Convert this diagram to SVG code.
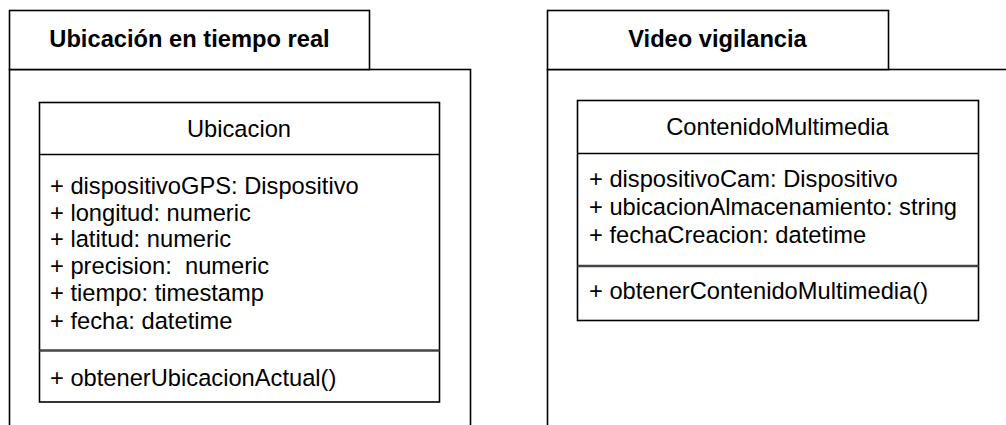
<svg xmlns="http://www.w3.org/2000/svg" width="1006" height="425" viewBox="0 0 1006 425">
  <style>
    .frame { fill: #ffffff; stroke: #000000; stroke-width: 1.6; }
    .box { fill: #ffffff; stroke: #000000; stroke-width: 1.6; }
    .sep { stroke: #000000; stroke-width: 1.6; fill: none; }
    .sep2 { stroke: #444444; stroke-width: 2.4; fill: none; }
    .pkg { font-family: "Liberation Sans", Arial, sans-serif; font-weight: bold; font-size: 23.7px; fill: #000000; text-anchor: middle; }
    .cls { font-family: "Liberation Sans", Arial, sans-serif; font-size: 23.7px; fill: #000000; text-anchor: middle; }
    .mem { font-family: "Liberation Sans", Arial, sans-serif; font-size: 23.7px; fill: #000000; }
  </style>
  <rect width="1006" height="425" fill="#ffffff"/>

  <!-- Package: Ubicación en tiempo real -->
  <g id="pkg-ubicacion">
    <rect class="frame" x="9.5" y="69.5" width="461" height="400"/>
    <rect class="frame" x="9.5" y="10.5" width="360" height="59"/>
    <text class="pkg" x="189.5" y="47">Ubicación en tiempo real</text>
  </g>

  <!-- Package: Video vigilancia -->
  <g id="pkg-video">
    <rect class="frame" x="547.5" y="69.5" width="500" height="400"/>
    <rect class="frame" x="547.5" y="10.5" width="341" height="59"/>
    <text class="pkg" x="717.5" y="47">Video vigilancia</text>
  </g>

  <!-- Class: Ubicacion -->
  <g id="class-ubicacion">
    <rect class="box" x="39.5" y="102.5" width="400" height="299.5"/>
    <line class="sep" x1="39.5" y1="154.5" x2="439.5" y2="154.5"/>
    <line class="sep2" x1="39.5" y1="350.5" x2="439.5" y2="350.5"/>
    <text class="cls" x="239" y="137">Ubicacion</text>
    <text class="mem" x="50" y="193.5">+ dispositivoGPS: Dispositivo</text>
    <text class="mem" x="50" y="220.5">+ longitud: numeric</text>
    <text class="mem" x="50" y="246.5">+ latitud: numeric</text>
    <text class="mem" x="50" y="273.5" xml:space="preserve">+ precision:  numeric</text>
    <text class="mem" x="50" y="301">+ tiempo: timestamp</text>
    <text class="mem" x="50" y="328.5">+ fecha: datetime</text>
    <text class="mem" x="50" y="385.5">+ obtenerUbicacionActual()</text>
  </g>

  <!-- Class: ContenidoMultimedia -->
  <g id="class-contenido">
    <rect class="box" x="577.5" y="100.5" width="401" height="220"/>
    <line class="sep" x1="577.5" y1="153.5" x2="978.5" y2="153.5"/>
    <line class="sep2" x1="577.5" y1="266" x2="978.5" y2="266"/>
    <text class="cls" x="777.5" y="135">ContenidoMultimedia</text>
    <text class="mem" x="589" y="187">+ dispositivoCam: Dispositivo</text>
    <text class="mem" x="589" y="215">+ ubicacionAlmacenamiento: string</text>
    <text class="mem" x="589" y="243">+ fechaCreacion: datetime</text>
    <text class="mem" x="589" y="298.5">+ obtenerContenidoMultimedia()</text>
  </g>

  <!-- No connectors between the packages -->
  <g id="connectors"></g>
</svg>
